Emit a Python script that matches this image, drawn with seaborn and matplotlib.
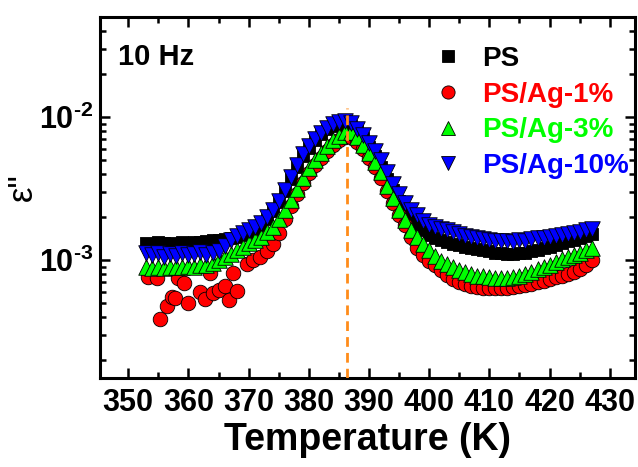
import numpy as np
import pandas as pd
import matplotlib
matplotlib.use("Agg")
import matplotlib.pyplot as plt
import seaborn as sns
from matplotlib.ticker import LogLocator, FuncFormatter, MultipleLocator, NullFormatter
from matplotlib.lines import Line2D

# ---------------- data ----------------
T = list(range(353, 428))  # K, shared by PS, PS/Ag-3%, PS/Ag-10%

ps = [1.32, 1.30, 1.33, 1.31, 1.32, 1.30, 1.33, 1.32, 1.34, 1.33,
      1.36, 1.38, 1.39, 1.40, 1.42, 1.45, 1.50, 1.56, 1.64, 1.76,
      1.95, 2.20, 2.55, 3.05, 3.70, 4.45, 5.30, 6.10, 6.90, 7.60,
      8.20, 8.70, 9.00, 9.00, 8.70, 8.00, 7.10, 6.20, 5.30, 4.50,
      3.70, 3.10, 2.60, 2.25, 1.98, 1.78, 1.62, 1.50, 1.43, 1.38,
      1.33, 1.30, 1.27, 1.24, 1.21, 1.19, 1.17, 1.15, 1.13, 1.12,
      1.11, 1.11, 1.12, 1.13, 1.15, 1.18, 1.21, 1.24, 1.27, 1.31,
      1.35, 1.39, 1.43, 1.48, 1.52]  # x1e-3

ag3 = [0.89, 0.88, 0.90, 0.88, 0.89, 0.90, 0.89, 0.91, 0.90, 0.92,
       0.93, 0.96, 1.00, 1.05, 1.10, 1.17, 1.24, 1.31, 1.38, 1.46,
       1.56, 1.70, 1.93, 2.25, 2.65, 3.15, 3.75, 4.40, 5.00, 5.60,
       6.30, 6.90, 7.40, 7.80, 7.80, 7.20, 6.40, 5.60, 4.85, 4.10,
       3.30, 2.70, 2.25, 1.90, 1.62, 1.45, 1.30, 1.17, 1.07, 0.99,
       0.94, 0.89, 0.85, 0.82, 0.80, 0.78, 0.77, 0.76, 0.75, 0.75,
       0.75, 0.76, 0.78, 0.80, 0.83, 0.86, 0.89, 0.93, 0.97, 1.01,
       1.05, 1.09, 1.13, 1.18, 1.22]  # x1e-3

ag10 = [1.12, 1.08, 1.12, 1.05, 1.10, 1.06, 1.13, 1.08, 1.10, 1.14,
        1.08, 1.13, 1.15, 1.25, 1.38, 1.48, 1.55, 1.62, 1.70, 1.82,
        2.00, 2.25, 2.60, 3.10, 3.80, 4.60, 5.50, 6.30, 7.00, 7.70,
        8.40, 8.90, 9.30, 9.40, 9.10, 8.30, 7.50, 6.60, 5.80, 5.00,
        4.10, 3.40, 2.90, 2.50, 2.25, 2.05, 1.88, 1.76, 1.70, 1.66,
        1.62, 1.58, 1.52, 1.48, 1.45, 1.43, 1.41, 1.39, 1.37, 1.35,
        1.37, 1.34, 1.38, 1.36, 1.40, 1.42, 1.43, 1.45, 1.47, 1.50,
        1.52, 1.55, 1.58, 1.62, 1.65]  # x1e-3

T_ag1 = [353.3, 354.8, 355.3, 356.4, 357.3, 357.8, 358.3, 359.3, 360.0, 362.0,
         362.8, 363.6, 364.1, 365.0, 366.1, 366.8, 367.4, 368.1, 369.7,
         370.8, 371.9, 373.0, 374.0, 375.0, 376.0, 377.0, 378.0, 379.0,
         380.0, 381.0, 382.0, 383.0, 384.0, 385.0, 386.0, 387.0, 388.0,
         389.0, 390.0, 391.0, 392.0, 393.0, 394.0, 395.0, 396.0, 397.0,
         398.0, 399.0, 400.0, 401.0, 402.0, 403.0, 404.0, 405.0, 406.0,
         407.0, 408.0, 409.0, 410.0, 411.0, 412.0, 413.0, 414.0, 415.0,
         416.0, 417.0, 418.0, 419.0, 420.0, 421.0, 422.0, 423.0, 424.0,
         425.0, 426.0, 427.0]
ag1 = [0.76, 0.75, 0.39, 0.475, 0.55, 0.54, 0.75, 0.69, 0.50, 0.60,
       0.535, 0.81, 0.59, 0.62, 0.66, 0.525, 0.81, 0.61, 0.94,
       1.00, 1.05, 1.15, 1.30, 1.55, 1.95, 2.40, 2.90, 3.45,
       4.05, 4.65, 5.20, 5.80, 6.40, 6.90, 7.20, 7.20, 6.70,
       6.00, 5.20, 4.45, 3.75, 3.05, 2.50, 2.05, 1.75, 1.45,
       1.22, 1.08, 0.98, 0.92, 0.85, 0.79, 0.74, 0.70, 0.68,
       0.66, 0.65, 0.64, 0.64, 0.64, 0.64, 0.64, 0.65, 0.66,
       0.67, 0.68, 0.70, 0.72, 0.74, 0.76, 0.78, 0.80, 0.83,
       0.87, 0.93, 1.00]  # x1e-3

labels = ["PS", "PS/Ag-1%", "PS/Ag-3%", "PS/Ag-10%"]
colors = ["#000000", "#FF0000", "#00FF00", "#0000FF"]
peak_T = 386.3
peak_line_top = 0.0115
freq_label = "10 Hz"

x_ticks = list(range(350, 431, 10))

# ---------------- style ----------------
sns.set_theme(style="ticks")
plt.rcParams["font.family"] = ["Liberation Sans", "DejaVu Sans"]
plt.rcParams["font.weight"] = "bold"
plt.rcParams["text.color"] = "black"
plt.rcParams["axes.labelcolor"] = "black"
plt.rcParams["axes.edgecolor"] = "black"
plt.rcParams["xtick.color"] = "black"
plt.rcParams["ytick.color"] = "black"
plt.rcParams["mathtext.fontset"] = "custom"
plt.rcParams["mathtext.rm"] = "Liberation Sans:bold"
plt.rcParams["mathtext.bf"] = "Liberation Sans:bold"
plt.rcParams["mathtext.it"] = "Liberation Sans:italic"

fig = plt.figure(figsize=(6.38, 4.67), dpi=100)
ax = fig.add_axes([0.1567, 0.1906, 0.9953 - 0.1567, 0.9636 - 0.1906])

df_ps = pd.DataFrame({"T": T, "e": np.array(ps) * 1e-3})
df_1 = pd.DataFrame({"T": T_ag1, "e": np.array(ag1) * 1e-3})
df_3 = pd.DataFrame({"T": T, "e": np.array(ag3) * 1e-3})
df_10 = pd.DataFrame({"T": T, "e": np.array(ag10) * 1e-3})

specs = [(df_ps, "s", 85), (df_1, "o", 110), (df_3, "^", 125), (df_10, "v", 125)]
for (df, mk, s), lab, c in zip(specs, labels, colors):
    sns.scatterplot(data=df, x="T", y="e", ax=ax, marker=mk, s=s, color=c,
                    edgecolor="black", linewidth=0.6, label=lab, zorder=3)

ax.set_yscale("log")
ax.set_xlim(345.3, 434.2)
ax.set_ylim(1.5e-4, 5e-2)

ax.vlines(peak_T, 1.5e-4, peak_line_top, colors="#FF8C1A", linestyles=(0, (3.5, 2.2)),
          linewidth=2.0, zorder=4)

# ticks
ax.set_xticks(x_ticks)
ax.xaxis.set_minor_locator(MultipleLocator(5))
ax.yaxis.set_major_locator(LogLocator(base=10, numticks=10))
ax.yaxis.set_minor_locator(LogLocator(base=10, subs=np.arange(2, 10), numticks=20))
ax.yaxis.set_minor_formatter(NullFormatter())
ax.yaxis.set_major_formatter(FuncFormatter(
    lambda v, p: r"$\mathbf{10^{\text{%d}}}$" % int(round(np.log10(v)))))

ax.tick_params(which="both", direction="in", top=True, right=True, width=1.8,
               color="black", labelcolor="black")
ax.tick_params(which="major", length=7, labelsize=22)
ax.tick_params(which="minor", length=4.5)
ax.tick_params(axis="x", which="major", pad=7)
ax.tick_params(axis="y", which="major", pad=5)
for lab in ax.get_xticklabels() + ax.get_yticklabels():
    lab.set_fontweight("bold")

for sp in ax.spines.values():
    sp.set_linewidth(2.2)
    sp.set_color("black")

ax.set_xlabel("Temperature (K)", fontsize=27, fontweight="bold", labelpad=3)
ax.set_ylabel('ε"', fontsize=25, fontweight="normal", rotation=90)
ax.yaxis.set_label_coords(-0.115, 0.53)

ax.text(0.034, 0.867, freq_label, transform=ax.transAxes, fontsize=21,
        fontweight="bold", ha="left", va="baseline")

handles = [Line2D([], [], linestyle="none", marker=m, markersize=ms, markerfacecolor=c,
                  markeredgecolor="black", markeredgewidth=0.6)
           for m, ms, c in zip(["s", "o", "^", "v"], [8, 9.5, 10.5, 10.5], colors)]
leg = ax.legend(handles, labels, loc="upper left", bbox_to_anchor=(0.624, 0.92),
                frameon=False, borderpad=0, borderaxespad=0, handlelength=1.0,
                handletextpad=0.75, labelspacing=0.35,
                prop={"family": "Liberation Sans", "weight": "bold", "size": 20})
for txt, c in zip(leg.get_texts(), colors):
    txt.set_color(c)

fig.savefig("out.png", dpi=100)
